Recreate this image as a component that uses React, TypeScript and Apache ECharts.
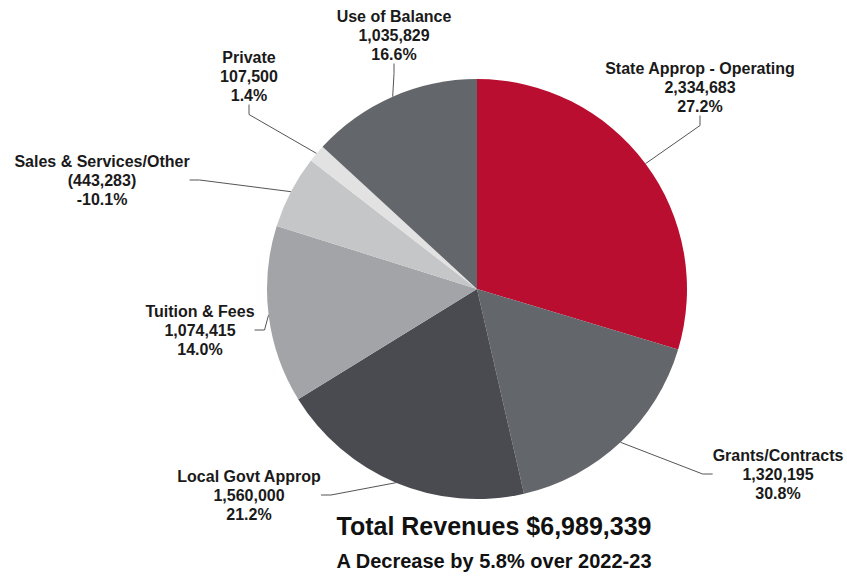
import React, { useEffect, useRef } from "react";
import * as echarts from "echarts";

const categories = [
  "State Approp - Operating",
  "Grants/Contracts",
  "Local Govt Approp",
  "Tuition & Fees",
  "Sales & Services/Other",
  "Private",
  "Use of Balance",
];
const sliceValues = [2334683, 1320195, 1560000, 1074415, 443283, 107500, 1035829];
const valueLabels = ["2,334,683", "1,320,195", "1,560,000", "1,074,415", "(443,283)", "107,500", "1,035,829"];
const percentLabels = ["27.2%", "30.8%", "21.2%", "14.0%", "-10.1%", "1.4%", "16.6%"];
const sliceColors = ["#b90e2f", "#63666a", "#4a4b50", "#a2a4a7", "#c5c6c8", "#e2e2e3", "#63666a"];
const titleText = "Total Revenues $6,989,339";
const subtitleText = "A Decrease by 5.8% over 2022-23";

// label anchor positions (center of the label block)
const labelPos: [number, number][] = [
  [700, 87],
  [778, 474],
  [249, 495],
  [200, 330],
  [102, 180],
  [249, 76],
  [394, 35],
];

export default function App() {
  const ref = useRef<HTMLDivElement>(null);
  useEffect(() => {
    document.body.style.margin = "0";
    if (!ref.current) return;
    const chart = echarts.init(ref.current, null, { renderer: "svg" });
    chart.setOption({
      animation: false,
      backgroundColor: "#ffffff",
      title: [
        {
          text: titleText,
          left: 489,
          top: 508,
          textAlign: "center",
          textStyle: { fontFamily: "Liberation Sans, Arial", fontWeight: "bold", fontSize: 25, color: "#111" },
        },
        {
          text: subtitleText,
          left: 489,
          top: 546,
          textAlign: "center",
          textStyle: { fontFamily: "Liberation Sans, Arial", fontWeight: "bold", fontSize: 20, color: "#111" },
        },
      ],
      series: [
        {
          type: "pie",
          center: [477, 289],
          radius: [0, 210],
          startAngle: 90,
          clockwise: true,
          avoidLabelOverlap: false,
          itemStyle: { borderColor: "#ffffff", borderWidth: 0 },
          label: {
            show: true,
            position: "outside",
            formatter: (p: any) =>
              `${categories[p.dataIndex]}\n${valueLabels[p.dataIndex]}\n${percentLabels[p.dataIndex]}`,
            fontFamily: "Liberation Sans, Arial",
            fontWeight: "bold",
            fontSize: 16,
            lineHeight: 19,
            color: "#1a1a1a",
            align: "center",
          },
          labelLine: {
            show: true,
            length: 20,
            length2: 10,
            lineStyle: { color: "#555", width: 1 },
          },
          labelLayout: (params: any) => {
            const pos = labelPos[params.dataIndex];
            return { x: pos[0], y: pos[1], align: "center", verticalAlign: "middle" };
          },
          data: categories.map((c, i) => ({
            name: c,
            value: sliceValues[i],
            itemStyle: { color: sliceColors[i] },
          })),
        },
      ],
    });
    return () => chart.dispose();
  }, []);
  return <div ref={ref} style={{ width: 847, height: 578 }} />;
}
